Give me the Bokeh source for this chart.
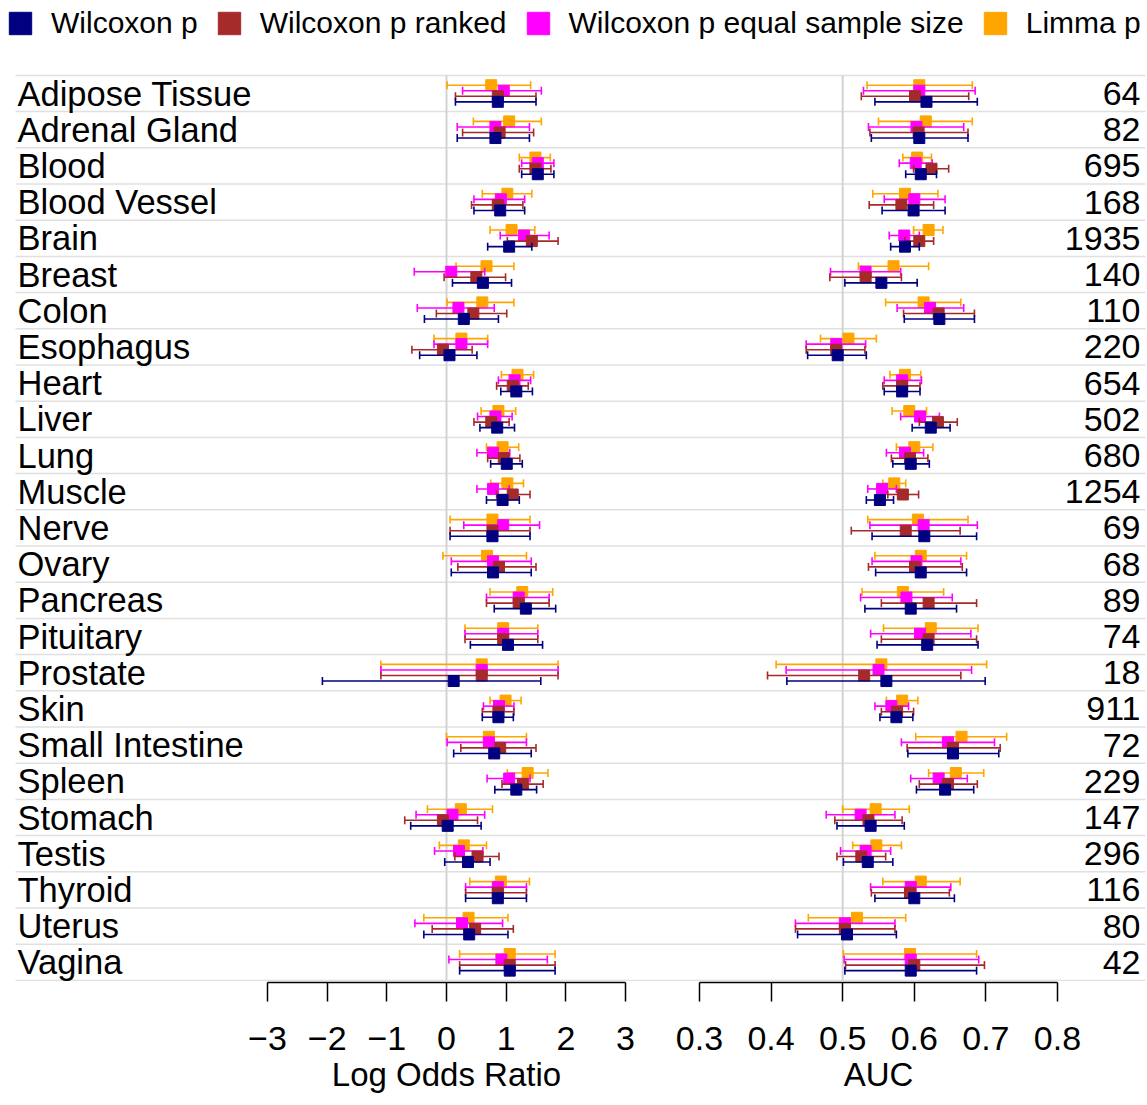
import math
from bokeh.plotting import figure
from bokeh.models import (Range1d, LinearAxis, FixedTicker, Legend, LegendItem,
                          ColumnDataSource, Spacer)
from bokeh.layouts import column, row
from bokeh.embed import file_html
from bokeh.resources import INLINE
from bokeh.core.properties import value

# ---------------- data ----------------
tissues = ["Adipose Tissue", "Adrenal Gland", "Blood", "Blood Vessel", "Brain", "Breast",
           "Colon", "Esophagus", "Heart", "Liver", "Lung", "Muscle", "Nerve", "Ovary",
           "Pancreas", "Pituitary", "Prostate", "Skin", "Small Intestine", "Spleen",
           "Stomach", "Testis", "Thyroid", "Uterus", "Vagina"]
counts = [64, 82, 695, 168, 1935, 140, 110, 220, 654, 502, 680, 1254, 69, 68, 89, 74,
          18, 911, 72, 229, 147, 296, 116, 80, 42]

series_names = ["Wilcoxon p", "Wilcoxon p ranked", "Wilcoxon p equal sample size", "Limma p"]
series_colors = ["#000080", "#A52A2A", "#FF00FF", "#FFA500"]

lor_ticks = [-3, -2, -1, 0, 1, 2, 3]
auc_ticks = [0.3, 0.4, 0.5, 0.6, 0.7, 0.8]

# Log odds ratio: estimate, lower, upper (per series)
lor_wilcox = [0.86, 0.82, 1.53, 0.90, 1.05, 0.61, 0.29, 0.05, 1.17, 0.85, 1.01, 0.94, 0.77,
              0.78, 1.33, 1.03, 0.12, 0.87, 0.80, 1.17, 0.02, 0.36, 0.86, 0.38, 1.06]
lor_wilcox_lo = [0.15, 0.18, 1.26, 0.46, 0.69, 0.10, -0.37, -0.45, 0.91, 0.56, 0.74, 0.67, 0.06,
                 0.08, 0.80, 0.40, -2.08, 0.60, 0.12, 0.81, -0.60, -0.03, 0.32, -0.38, 0.22]
lor_wilcox_hi = [1.50, 1.39, 1.80, 1.31, 1.43, 1.09, 0.87, 0.51, 1.44, 1.14, 1.27, 1.22, 1.40,
                 1.42, 1.83, 1.61, 1.58, 1.12, 1.42, 1.51, 0.58, 0.73, 1.34, 1.03, 1.82]

lor_ranked = [0.86, 0.89, 1.49, 0.86, 1.43, 0.50, 0.45, -0.06, 1.11, 0.75, 0.96, 1.11, 0.77,
              0.88, 1.21, 0.95, 0.59, 0.87, 0.90, 1.28, -0.06, 0.52, 0.86, 0.48, 1.06]
lor_ranked_lo = [0.15, 0.27, 1.22, 0.42, 1.02, -0.04, -0.17, -0.58, 0.84, 0.46, 0.69, 0.84, 0.06,
                 0.19, 0.67, 0.31, -1.10, 0.60, 0.24, 0.93, -0.70, 0.14, 0.32, -0.24, 0.22]
lor_ranked_hi = [1.50, 1.46, 1.75, 1.28, 1.87, 0.99, 1.01, 0.43, 1.37, 1.05, 1.23, 1.40, 1.40,
                 1.50, 1.72, 1.53, 1.87, 1.13, 1.50, 1.62, 0.52, 0.88, 1.34, 1.12, 1.82]

lor_equal = [0.96, 0.82, 1.53, 0.91, 1.30, 0.08, 0.20, 0.25, 1.14, 0.82, 0.78, 0.78, 0.95,
             0.78, 1.21, 0.95, 0.59, 0.88, 0.71, 1.05, 0.10, 0.21, 0.86, 0.26, 0.92]
lor_equal_lo = [0.27, 0.18, 1.26, 0.46, 0.90, -0.54, -0.49, -0.21, 0.87, 0.52, 0.51, 0.51, 0.29,
                0.08, 0.67, 0.31, -1.10, 0.62, 0.01, 0.68, -0.51, -0.20, 0.32, -0.53, 0.04]
lor_equal_hi = [1.59, 1.39, 1.80, 1.31, 1.72, 0.64, 0.80, 0.69, 1.41, 1.10, 1.06, 1.05, 1.56,
                1.42, 1.72, 1.53, 1.87, 1.13, 1.34, 1.40, 0.64, 0.61, 1.34, 0.94, 1.69]

lor_limma = [0.75, 1.05, 1.49, 1.02, 1.09, 0.67, 0.60, 0.25, 1.19, 0.87, 0.94, 1.02, 0.77,
             0.68, 1.27, 0.95, 0.59, 0.99, 0.71, 1.36, 0.24, 0.29, 0.91, 0.37, 1.06]
lor_limma_lo = [0.01, 0.45, 1.22, 0.60, 0.73, 0.16, 0.01, -0.21, 0.92, 0.58, 0.67, 0.74, 0.06,
                -0.06, 0.73, 0.31, -1.10, 0.73, 0.00, 1.02, -0.32, -0.12, 0.39, -0.38, 0.22]
lor_limma_hi = [1.41, 1.59, 1.74, 1.43, 1.48, 1.13, 1.13, 0.69, 1.46, 1.16, 1.21, 1.29, 1.40,
                1.34, 1.78, 1.53, 1.87, 1.25, 1.34, 1.70, 0.77, 0.67, 1.39, 1.03, 1.82]

# AUC: estimate, lower, upper (per series)
auc_wilcox = [0.617, 0.607, 0.609, 0.599, 0.587, 0.554, 0.635, 0.493, 0.583, 0.623, 0.595,
              0.552, 0.614, 0.609, 0.595, 0.618, 0.561, 0.575, 0.654, 0.643, 0.539, 0.535,
              0.600, 0.506, 0.595]
auc_wilcox_lo = [0.545, 0.540, 0.588, 0.555, 0.567, 0.503, 0.586, 0.451, 0.558, 0.597, 0.570,
                 0.533, 0.541, 0.546, 0.531, 0.548, 0.422, 0.552, 0.591, 0.603, 0.492, 0.501,
                 0.545, 0.437, 0.503]
auc_wilcox_hi = [0.688, 0.675, 0.631, 0.643, 0.607, 0.604, 0.684, 0.533, 0.608, 0.650, 0.621,
                 0.571, 0.687, 0.673, 0.659, 0.689, 0.699, 0.598, 0.718, 0.683, 0.586, 0.570,
                 0.656, 0.575, 0.687]

auc_ranked = [0.601, 0.606, 0.624, 0.582, 0.607, 0.532, 0.634, 0.491, 0.583, 0.633, 0.594,
              0.584, 0.588, 0.601, 0.620, 0.620, 0.530, 0.576, 0.654, 0.647, 0.536, 0.526,
              0.594, 0.503, 0.600]
auc_ranked_lo = [0.526, 0.538, 0.599, 0.537, 0.587, 0.482, 0.585, 0.449, 0.556, 0.607, 0.568,
                 0.563, 0.512, 0.536, 0.554, 0.554, 0.395, 0.554, 0.590, 0.607, 0.489, 0.492,
                 0.540, 0.434, 0.504]
auc_ranked_hi = [0.676, 0.675, 0.648, 0.627, 0.627, 0.582, 0.684, 0.531, 0.608, 0.660, 0.619,
                 0.606, 0.664, 0.667, 0.687, 0.687, 0.665, 0.599, 0.720, 0.688, 0.583, 0.560,
                 0.649, 0.573, 0.698]

auc_equal = [0.607, 0.603, 0.602, 0.600, 0.586, 0.532, 0.622, 0.491, 0.583, 0.608, 0.587,
             0.555, 0.613, 0.603, 0.589, 0.608, 0.550, 0.568, 0.647, 0.634, 0.525, 0.532,
             0.595, 0.503, 0.595]
auc_equal_lo = [0.529, 0.536, 0.579, 0.558, 0.565, 0.483, 0.576, 0.449, 0.558, 0.581, 0.561,
                0.535, 0.538, 0.541, 0.525, 0.539, 0.421, 0.545, 0.582, 0.595, 0.477, 0.497,
                0.539, 0.434, 0.502]
auc_equal_hi = [0.685, 0.669, 0.625, 0.643, 0.607, 0.581, 0.669, 0.532, 0.610, 0.635, 0.613,
                0.575, 0.688, 0.665, 0.653, 0.679, 0.680, 0.592, 0.712, 0.674, 0.573, 0.567,
                0.651, 0.573, 0.690]

auc_limma = [0.607, 0.616, 0.604, 0.587, 0.620, 0.571, 0.613, 0.508, 0.587, 0.593, 0.600,
             0.572, 0.605, 0.609, 0.584, 0.623, 0.554, 0.583, 0.666, 0.658, 0.546, 0.547,
             0.609, 0.520, 0.594]
auc_limma_lo = [0.534, 0.550, 0.584, 0.542, 0.599, 0.522, 0.560, 0.469, 0.566, 0.569, 0.575,
                0.556, 0.535, 0.545, 0.527, 0.557, 0.407, 0.561, 0.602, 0.620, 0.500, 0.514,
                0.556, 0.452, 0.501]
auc_limma_hi = [0.681, 0.681, 0.624, 0.633, 0.640, 0.620, 0.665, 0.547, 0.609, 0.617, 0.626,
                0.588, 0.675, 0.673, 0.641, 0.689, 0.701, 0.605, 0.729, 0.697, 0.593, 0.582,
                0.664, 0.588, 0.687]

lor_series = [(lor_wilcox, lor_wilcox_lo, lor_wilcox_hi), (lor_ranked, lor_ranked_lo, lor_ranked_hi),
              (lor_equal, lor_equal_lo, lor_equal_hi), (lor_limma, lor_limma_lo, lor_limma_hi)]
auc_series = [(auc_wilcox, auc_wilcox_lo, auc_wilcox_hi), (auc_ranked, auc_ranked_lo, auc_ranked_hi),
              (auc_equal, auc_equal_lo, auc_equal_hi), (auc_limma, auc_limma_lo, auc_limma_hi)]

# ---------------- layout ----------------
FONT = "Liberation Sans"
W = 1147
MAIN_H = 981
ROW_PX = 36.2
LOR_PX = (267, 625)      # frame px of -3 and 3
AUC_PX = (699, 1057)     # frame px of 0.3 and 0.8
DODGE = [-0.23, -0.077, 0.077, 0.23]
n = len(tissues)


def mapped_range(lo, hi, px_lo, px_hi, width):
    s = (hi - lo) / (px_hi - px_lo)
    return Range1d(lo - px_lo * s, lo + (width - px_lo) * s)


y0 = -0.03
main = figure(width=W, height=MAIN_H, x_range=Range1d(0, W),
              y_range=Range1d(y0, y0 + MAIN_H / ROW_PX),
              x_axis_type=None, y_axis_type=None, toolbar_location=None,
              output_backend="svg", min_border=0, outline_line_color=None)
main.extra_x_ranges = {"lor": mapped_range(lor_ticks[0], lor_ticks[-1], *LOR_PX, W),
                       "auc": mapped_range(auc_ticks[0], auc_ticks[-1], *AUC_PX, W)}

# row separators
seps = list(range(n + 1))
main.segment(x0=[15] * len(seps), x1=[1145] * len(seps), y0=seps, y1=seps,
             line_color="#e0e0e0", line_width=1.5)
# reference lines
main.segment(x0=[0], x1=[0], y0=[0], y1=[n], x_range_name="lor", line_color="#d3d3d3", line_width=2)
main.segment(x0=[0.5], x1=[0.5], y0=[0], y1=[n], x_range_name="auc", line_color="#d3d3d3", line_width=2)

centers = [n - 1 - i + 0.5 for i in range(n)]

for s in [3, 2, 1, 0]:
    col = series_colors[s]
    ys = [c + DODGE[s] for c in centers]
    for rname, (est, lo, hi) in (("lor", lor_series[s]), ("auc", auc_series[s])):
        src = ColumnDataSource(dict(y=ys, c=est, lo=lo, hi=hi))
        main.segment(x0="lo", x1="hi", y0="y", y1="y", source=src, x_range_name=rname,
                     line_color=col, line_width=1.6)
        for f in ("lo", "hi"):
            main.scatter(x=f, y="y", source=src, x_range_name=rname, marker="dash",
                         angle=math.pi / 2, size=8, line_color=col, line_width=1.6)
        main.scatter(x="c", y="y", source=src, x_range_name=rname, marker="square",
                     size=11, fill_color=col, line_color=col, line_width=1)

main.text(x=[17] * n, y=centers, text=tissues, text_font=value(FONT), text_font_size="34.5px",
          text_baseline="middle", text_align="left", text_color="black")
main.text(x=[1140] * n, y=centers, text=[str(c) for c in counts], text_font=value(FONT),
          text_font_size="34px", text_baseline="middle", text_align="right", text_color="black")

# legend with square swatches (dummy swatch glyphs lie outside the visible ranges)
items = []
for name, col in zip(series_names, series_colors):
    r = main.quad(left=[-60], right=[-50], top=[-5], bottom=[-6], fill_color=col, line_color=col)
    items.append(LegendItem(label=name, renderers=[r]))
legend = Legend(items=items, orientation="horizontal", location="top_left",
                glyph_width=28, glyph_height=28, label_standoff=17, spacing=17,
                padding=0, margin=6, label_text_font=FONT, label_text_font_size="30px",
                label_text_color="black", border_line_alpha=0, background_fill_alpha=0)
main.add_layout(legend)


def axis_fig(ticks, title, px, width, overrides=None):
    f = figure(frame_width=width, frame_height=1,
               x_range=mapped_range(ticks[0], ticks[-1], px[0], px[1], width),
               y_range=Range1d(0, 1), x_axis_type=None, y_axis_type=None,
               toolbar_location=None, output_backend="svg", min_border=0,
               outline_line_color=None)
    ax = LinearAxis(ticker=FixedTicker(ticks=ticks), bounds=(ticks[0], ticks[-1]),
                    axis_label=title)
    ax.axis_line_width = 1.5
    ax.major_tick_line_width = 1.5
    ax.major_tick_out = 19
    ax.major_tick_in = 0
    ax.minor_tick_line_color = None
    ax.major_label_text_font = FONT
    ax.major_label_text_font_size = "34px"
    ax.major_label_text_color = "black"
    ax.major_label_standoff = 25
    ax.axis_label_text_font = FONT
    ax.axis_label_text_font_size = "33px"
    ax.axis_label_text_font_style = "normal"
    ax.axis_label_text_color = "black"
    ax.axis_label_standoff = 3
    if overrides:
        ax.major_label_overrides = overrides
    f.add_layout(ax, "below")
    return f


lor_labels = {t: str(t).replace("-", "\u2212") for t in lor_ticks}
ax_lor = axis_fig(lor_ticks, "Log Odds Ratio", (37, 395), 432, lor_labels)
ax_auc = axis_fig(auc_ticks, "AUC", (37, 395), 432)

layout = column(main, row(Spacer(width=230, height=1), ax_lor, ax_auc))

open("out.html", "w").write(file_html(layout, INLINE))
